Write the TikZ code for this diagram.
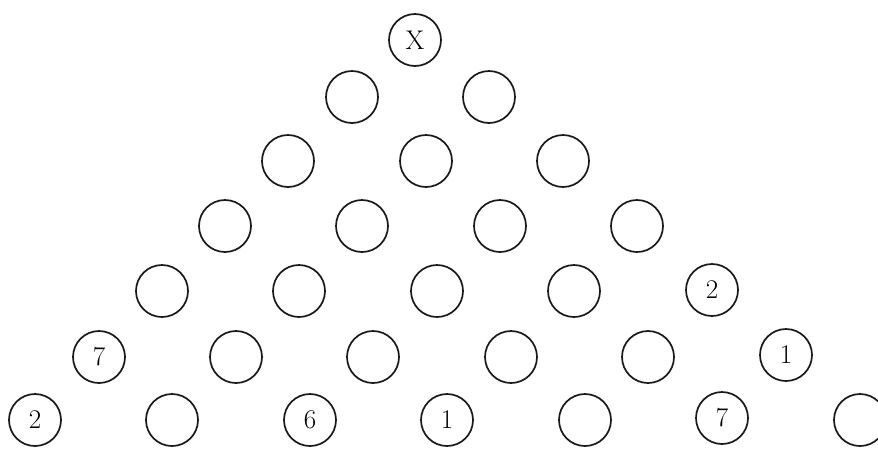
\documentclass[tikz,border=0pt]{standalone}
\usepackage{tikz}

\begin{document}
\begin{tikzpicture}[
  x=1pt, y=-1pt,
  ball/.style={draw=black!90, circle, line width=1.7pt,
               minimum size=52pt, inner sep=0pt,
               font=\fontsize{27}{30}\selectfont}
]
  \clip (0,0) rectangle (878,448);
  \useasboundingbox (0,0) rectangle (878,448);

  % row 0
  \node[ball] (n00) at (415,40) {X};
  % row 1
  \node[ball] (n10) at (352,97) {};
  \node[ball] (n11) at (489,97) {};
  % row 2
  \node[ball] (n20) at (288,161) {};
  \node[ball] (n21) at (426,161) {};
  \node[ball] (n22) at (563,161) {};
  % row 3
  \node[ball] (n30) at (225,226) {};
  \node[ball] (n31) at (362,226) {};
  \node[ball] (n32) at (500,226) {};
  \node[ball] (n33) at (637,226) {};
  % row 4
  \node[ball] (n40) at (162,291) {};
  \node[ball] (n41) at (299,291) {};
  \node[ball] (n42) at (437,291) {};
  \node[ball] (n43) at (574,291) {};
  \node[ball] (n44) at (712,290) {2};
  % row 5
  \node[ball] (n50) at (99,357) {7};
  \node[ball] (n51) at (236,357) {};
  \node[ball] (n52) at (373,357) {};
  \node[ball] (n53) at (511,357) {};
  \node[ball] (n54) at (648,357) {};
  \node[ball] (n55) at (786,355) {1};
  % row 6
  \node[ball] (n60) at (35,420) {2};
  \node[ball] (n61) at (172,420) {};
  \node[ball] (n62) at (310,420) {6};
  \node[ball] (n63) at (447,420) {1};
  \node[ball] (n64) at (585,420) {};
  \node[ball] (n65) at (722,418) {7};
  \node[ball] (n66) at (860,420) {};
\end{tikzpicture}
\end{document}
